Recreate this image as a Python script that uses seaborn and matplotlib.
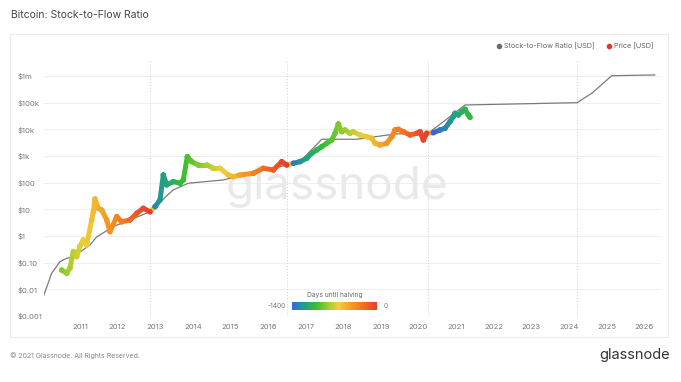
import numpy as np
import pandas as pd
import matplotlib
matplotlib.use("Agg")
import matplotlib.pyplot as plt
import matplotlib.colors as mcolors
import matplotlib.colorbar as mcolorbar
from matplotlib.collections import LineCollection
from matplotlib.lines import Line2D
from matplotlib.patches import Rectangle
import seaborn as sns

# Stock-to-flow model line (decimal year, USD)
s2f_year = [2010.024, 2010.247, 2010.468, 2010.646, 2010.822, 2011.266, 2011.444, 2011.878,
            2012.33, 2012.862, 2013.473, 2013.88, 2014.81, 2015.52, 2016.32, 2016.53,
            2016.896, 2017.16, 2017.43, 2018.36, 2019.38, 2020.26, 2021.24, 2024.22,
            2024.62, 2025.14, 2026.29]
s2f_value = [0.0053, 0.040, 0.109, 0.146, 0.167, 0.46, 0.92, 2.23,
             4.0, 8.1, 53, 95, 126, 224, 396, 460,
             706, 1720, 4230, 4230, 6670, 7080, 81500, 99500,
             230000, 1020000, 1090000]

# BTC price (decimal year, USD)
price_year = [2010.513, 2010.646, 2010.734, 2010.822, 2010.912, 2011.0, 2011.088, 2011.178,
              2011.311, 2011.354, 2011.399, 2011.487, 2011.577, 2011.71, 2011.798, 2011.976,
              2012.109, 2012.33, 2012.508, 2012.684, 2012.862, 2012.995, 2013.128, 2013.215,
              2013.306, 2013.481, 2013.66, 2013.747, 2013.854, 2013.971, 2014.146, 2014.37,
              2014.545, 2014.723, 2014.944, 2015.077, 2015.255, 2015.609, 2015.875, 2016.141,
              2016.364, 2016.497, 2016.673, 2016.851, 2017.029, 2017.162, 2017.295, 2017.428,
              2017.561, 2017.694, 2017.782, 2017.87, 2017.96, 2018.048, 2018.181, 2018.269,
              2018.447, 2018.625, 2018.758, 2018.846, 2018.979, 2019.157, 2019.29, 2019.378,
              2019.465, 2019.598, 2019.777, 2019.955, 2020.043, 2020.13, 2020.221, 2020.396,
              2020.574, 2020.707, 2020.84, 2020.928, 2020.973, 2021.061, 2021.152, 2021.239,
              2021.327, 2021.372]
price_value = [0.053, 0.040, 0.063, 0.26, 0.167, 0.42, 0.71, 0.46,
               4.0, 8.1, 24.4, 10.9, 9.4, 4.0, 1.45, 5.3,
               3.4, 4.0, 7.1, 10.9, 8.1, 12.5, 22.4, 194,
               82, 109, 95, 126, 940, 611, 459, 459,
               345, 345, 194, 167, 194, 224, 345, 298,
               611, 459, 532, 611, 818, 1260, 1675, 2230,
               2990, 3970, 7080, 15800, 8130, 9420, 7080, 8130,
               6120, 5280, 4600, 2990, 2580, 2990, 5280, 9420,
               10000, 8130, 6120, 7080, 8130, 3970, 7080, 7460,
               9420, 10900, 19300, 29700, 39800, 34400, 45700, 56200,
               34400, 28200]

halving_year = [2012.862, 2016.505, 2020.255, 2024.218]

ytick_values = [1e-3, 1e-2, 1e-1, 1, 10, 100, 1e3, 1e4, 1e5, 1e6]
ytick_labels = ["$0.001", "$0.01", "$0.10", "$1", "$10", "$100", "$1k", "$10k", "$100k", "$1m"]
xtick_years = list(range(2011, 2027))

# days until next halving (negative), clipped to the colour scale
def days_until_halving(y):
    nxt = min(h for h in halving_year if h >= y - 1e-6)
    return -min((nxt - y) * 365.25, 1400)

df_price = pd.DataFrame({"year": price_year, "price": price_value})
df_price["days"] = [days_until_halving(y) for y in price_year]
df_s2f = pd.DataFrame({"year": s2f_year, "value": s2f_value})

halving_cmap = mcolors.LinearSegmentedColormap.from_list(
    "halving",
    [(0.0, "#3b64dc"), (0.14, "#1f9f86"), (0.28, "#35bf30"), (0.42, "#9ccc2e"),
     (0.55, "#f0d03a"), (0.70, "#f59a24"), (0.85, "#f36b1f"), (1.0, "#e63b2e")])
norm = mcolors.Normalize(vmin=-1400, vmax=0)

sns.set_theme(style="white")
plt.rcParams["font.family"] = ["Inter", "DejaVu Sans"]

fig = plt.figure(figsize=(6.81, 3.82), dpi=100)
fig.patch.set_facecolor("white")

# outer card
fig.add_artist(Rectangle((10 / 681, 1 - 337 / 382), 658 / 681, 303 / 382,
                         transform=fig.transFigure, fill=False, edgecolor="#ececec", lw=0.8))

ax = fig.add_axes([44 / 681, 1 - 316 / 382, 617 / 681, 255 / 382])
ax.set_yscale("log")
ax.set_xlim(2010.043, 2026.45)
ax.set_ylim(1e-3, 10 ** 6.56)

for v in ytick_values:
    ax.axhline(v, color="#efefef", lw=0.8, zorder=0)
for h in halving_year:
    ax.axvline(h, color="#cfcfcf", lw=0.7, ls=(0, (1, 2)), zorder=0)

ax.text(0.475, 0.505, "glassnode", transform=ax.transAxes, ha="center", va="center",
        fontsize=33, color="#e9e9e9", zorder=0.5)

sns.lineplot(data=df_s2f, x="year", y="value", color="#7a7a7a", lw=0.9, ax=ax, zorder=3)

# price as a thick line coloured by days until halving
xy = np.column_stack([df_price["year"], df_price["price"]])
segs = [xy[i:i + 2] for i in range(len(xy) - 1)]
seg_days = (df_price["days"].values[:-1] + df_price["days"].values[1:]) / 2
lc = LineCollection(segs, cmap=halving_cmap, norm=norm, linewidths=3.6,
                    capstyle="round", joinstyle="round", zorder=4)
lc.set_array(seg_days)
ax.add_collection(lc)
sns.scatterplot(data=df_price, x="year", y="price", hue="days", palette=halving_cmap,
                hue_norm=norm, s=16, edgecolor=None, linewidth=0, legend=False, ax=ax, zorder=5)

ax.set_xlabel("")
ax.set_ylabel("")
ax.set_xticks(xtick_years)
ax.set_xticklabels([str(y) for y in xtick_years])
ax.set_yticks(ytick_values)
ax.set_yticklabels(ytick_labels)
ax.minorticks_off()
ax.tick_params(axis="x", length=0, pad=6, labelsize=5.5, labelcolor="#777777")
ax.tick_params(axis="y", length=0, pad=19, labelsize=5.5, labelcolor="#777777")
for lab in ax.get_yticklabels():
    lab.set_horizontalalignment("left")
for s in ax.spines.values():
    s.set_visible(False)

# legend
handles = [Line2D([], [], ls="", marker="o", ms=3, color="#6e6e6e"),
           Line2D([], [], ls="", marker="o", ms=3, color="#e8352b")]
fig.legend(handles, ["Stock-to-Flow Ratio [USD]", "Price [USD]"], ncol=2, frameon=False,
           fontsize=5.2, labelcolor="#666666", loc="center right", handletextpad=0.1,
           columnspacing=1.6, handlelength=1, bbox_to_anchor=(660 / 681, 1 - 46 / 382))

# colour bar for days until halving
cax = fig.add_axes([292 / 681, 1 - 309.5 / 382, 85 / 681, 8 / 382])
cb = mcolorbar.ColorbarBase(cax, cmap=halving_cmap, norm=norm, orientation="horizontal")
cb.set_ticks([])
cb.outline.set_visible(False)
fig.text(335 / 681, 1 - 295.5 / 382, "Days until halving", ha="center", va="center",
         fontsize=4.8, color="#666666")
fig.text(286 / 681, 1 - 305.5 / 382, "-1400", ha="right", va="center", fontsize=4.8, color="#777777")
fig.text(384 / 681, 1 - 305.5 / 382, "0", ha="left", va="center", fontsize=4.8, color="#777777")

fig.text(11 / 681, 1 - 15 / 382, "Bitcoin: Stock-to-Flow Ratio", ha="left", va="center",
         fontsize=7.5, color="#444444")
fig.text(10 / 681, 1 - 356 / 382, "\u00a9 2021 Glassnode. All Rights Reserved.", ha="left",
         va="center", fontsize=5, color="#888888")
fig.text(670 / 681, 1 - 355 / 382, "glassnode", ha="right", va="center", fontsize=10.5,
         color="#333333")

fig.savefig("out.png", dpi=100, facecolor="white")
